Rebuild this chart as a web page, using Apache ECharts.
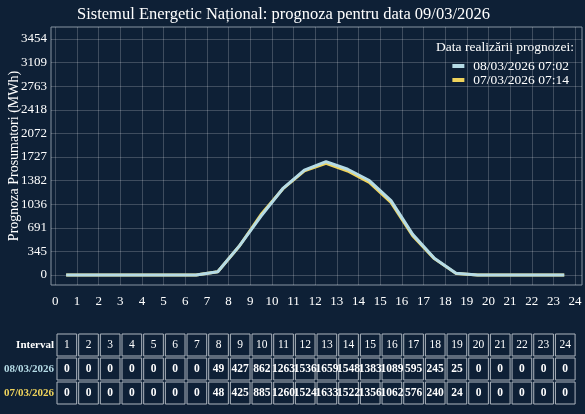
<!DOCTYPE html>
<html>
<head>
<meta charset="utf-8">
<script src="https://cdn.jsdelivr.net/npm/echarts@6/dist/echarts.min.js"></script>
<style>
  html, body { margin: 0; padding: 0; background: #0e2036; }
  #chart { width: 585px; height: 414px; }
</style>
</head>
<body>
<div id="chart"></div>
<script>
// date
var intervals = [1, 2, 3, 4, 5, 6, 7, 8, 9, 10, 11, 12, 13, 14, 15, 16, 17, 18, 19, 20, 21, 22, 23, 24];
var prog0803 = [0, 0, 0, 0, 0, 0, 0, 49, 427, 862, 1263, 1536, 1659, 1548, 1383, 1089, 595, 245, 25, 0, 0, 0, 0, 0];
var prog0703 = [0, 0, 0, 0, 0, 0, 0, 48, 425, 885, 1260, 1524, 1633, 1522, 1356, 1062, 576, 240, 24, 0, 0, 0, 0, 0];
var yTicks = [0, 345, 691, 1036, 1382, 1727, 2072, 2418, 2763, 3109, 3454];
var xTicks = [0, 1, 2, 3, 4, 5, 6, 7, 8, 9, 10, 11, 12, 13, 14, 15, 16, 17, 18, 19, 20, 21, 22, 23, 24];

var FONT = "Liberation Serif";
var BLUE = "#b5dbe6";
var GOLD = "#efd35c";
var BG = "#0e2036";

// punctele: intervalul k desenat la k - 0.5
function toPoints(vals) {
  return vals.map(function (v, i) { return [intervals[i] - 0.5, v]; });
}

// tabelul de sub grafic
function buildTable() {
  var els = [];
  var left = 56, colW = 21.67, rowH = 24;
  var rows = [
    { label: "Interval", color: "#ffffff", vals: intervals },
    { label: "08/03/2026", color: BLUE, vals: prog0803 },
    { label: "07/03/2026", color: GOLD, vals: prog0703 }
  ];
  rows.forEach(function (row, r) {
    var top = 333 + r * rowH;
    els.push({
      type: "text", x: 54, y: top + rowH / 2,
      style: { text: row.label, fill: row.color, font: "bold 11px " + FONT, align: "right", verticalAlign: "middle" }
    });
    row.vals.forEach(function (v, c) {
      var x = left + c * colW;
      els.push({
        type: "rect",
        shape: { x: x + 1, y: top + 1, width: colW - 2, height: rowH - 2 },
        style: { fill: BG, stroke: "#aeb6bf", lineWidth: 1 }
      });
      els.push({
        type: "text", x: x + colW / 2, y: top + rowH / 2,
        style: { text: String(v), fill: "#ffffff", font: (r === 0 ? "" : "bold ") + "11.5px " + FONT, align: "center", verticalAlign: "middle" }
      });
    });
  });
  return els;
}

var myChart = echarts.init(document.getElementById("chart"));
var option = {
  backgroundColor: BG,
  animation: false,
  textStyle: { fontFamily: FONT },
  title: {
    text: "Sistemul Energetic Național: prognoza pentru data 09/03/2026",
    left: 77,
    top: 6,
    padding: 0,
    textStyle: { color: "#ffffff", fontFamily: FONT, fontSize: 16.5, fontWeight: "normal" }
  },
  grid: {
    left: 51, right: 3, top: 27, bottom: 129,
    containLabel: false,
    outerBoundsMode: "none",
    show: true, borderColor: "#8794a2", borderWidth: 1, backgroundColor: "transparent"
  },
  legend: {
    orient: "vertical",
    right: 11,
    top: 54,
    itemWidth: 12,
    itemHeight: 4,
    itemGap: 0,
    icon: "rect",
    align: "left",
    textStyle: { color: "#ffffff", fontFamily: FONT, fontSize: 13.5, lineHeight: 13, padding: [0, 0, 0, 4] },
    data: ["08/03/2026 07:02", "07/03/2026 07:14"]
  },
  xAxis: {
    type: "value",
    min: -0.2,
    max: 24.32,
    axisLine: { show: false },
    axisTick: { show: false, customValues: xTicks },
    axisLabel: { customValues: xTicks, color: "#ffffff", fontFamily: FONT, fontSize: 13, margin: 10 },
    splitLine: { show: true, lineStyle: { color: "rgba(255,255,255,0.2)", width: 1 } }
  },
  yAxis: {
    type: "value",
    min: -146,
    max: 3630,
    name: "Prognoza Prosumatori (MWh)",
    nameLocation: "middle",
    nameGap: 30,
    nameMoveOverlap: false,
    nameTextStyle: { color: "#ffffff", fontFamily: FONT, fontSize: 14 },
    axisLine: { show: false },
    axisTick: { show: false, customValues: yTicks },
    axisLabel: {
      customValues: yTicks, color: "#ffffff", fontFamily: FONT, fontSize: 13, margin: 4,
      formatter: function (v) { return String(v); }
    },
    splitLine: { show: true, lineStyle: { color: "rgba(255,255,255,0.2)", width: 1 } }
  },
  graphic: [
    {
      type: "text", right: 11, top: 40,
      style: { text: "Data realizării prognozei:", fill: "#ffffff", font: "13.5px " + FONT }
    }
  ].concat(buildTable()),
  series: [
    {
      name: "08/03/2026 07:02",
      type: "line",
      z: 3,
      showSymbol: false,
      color: BLUE,
      lineStyle: { width: 3, color: BLUE },
      data: toPoints(prog0803)
    },
    {
      name: "07/03/2026 07:14",
      type: "line",
      z: 2,
      showSymbol: false,
      color: GOLD,
      lineStyle: { width: 3, color: GOLD },
      data: toPoints(prog0703)
    }
  ]
};
myChart.setOption(option);
</script>
</body>
</html>
